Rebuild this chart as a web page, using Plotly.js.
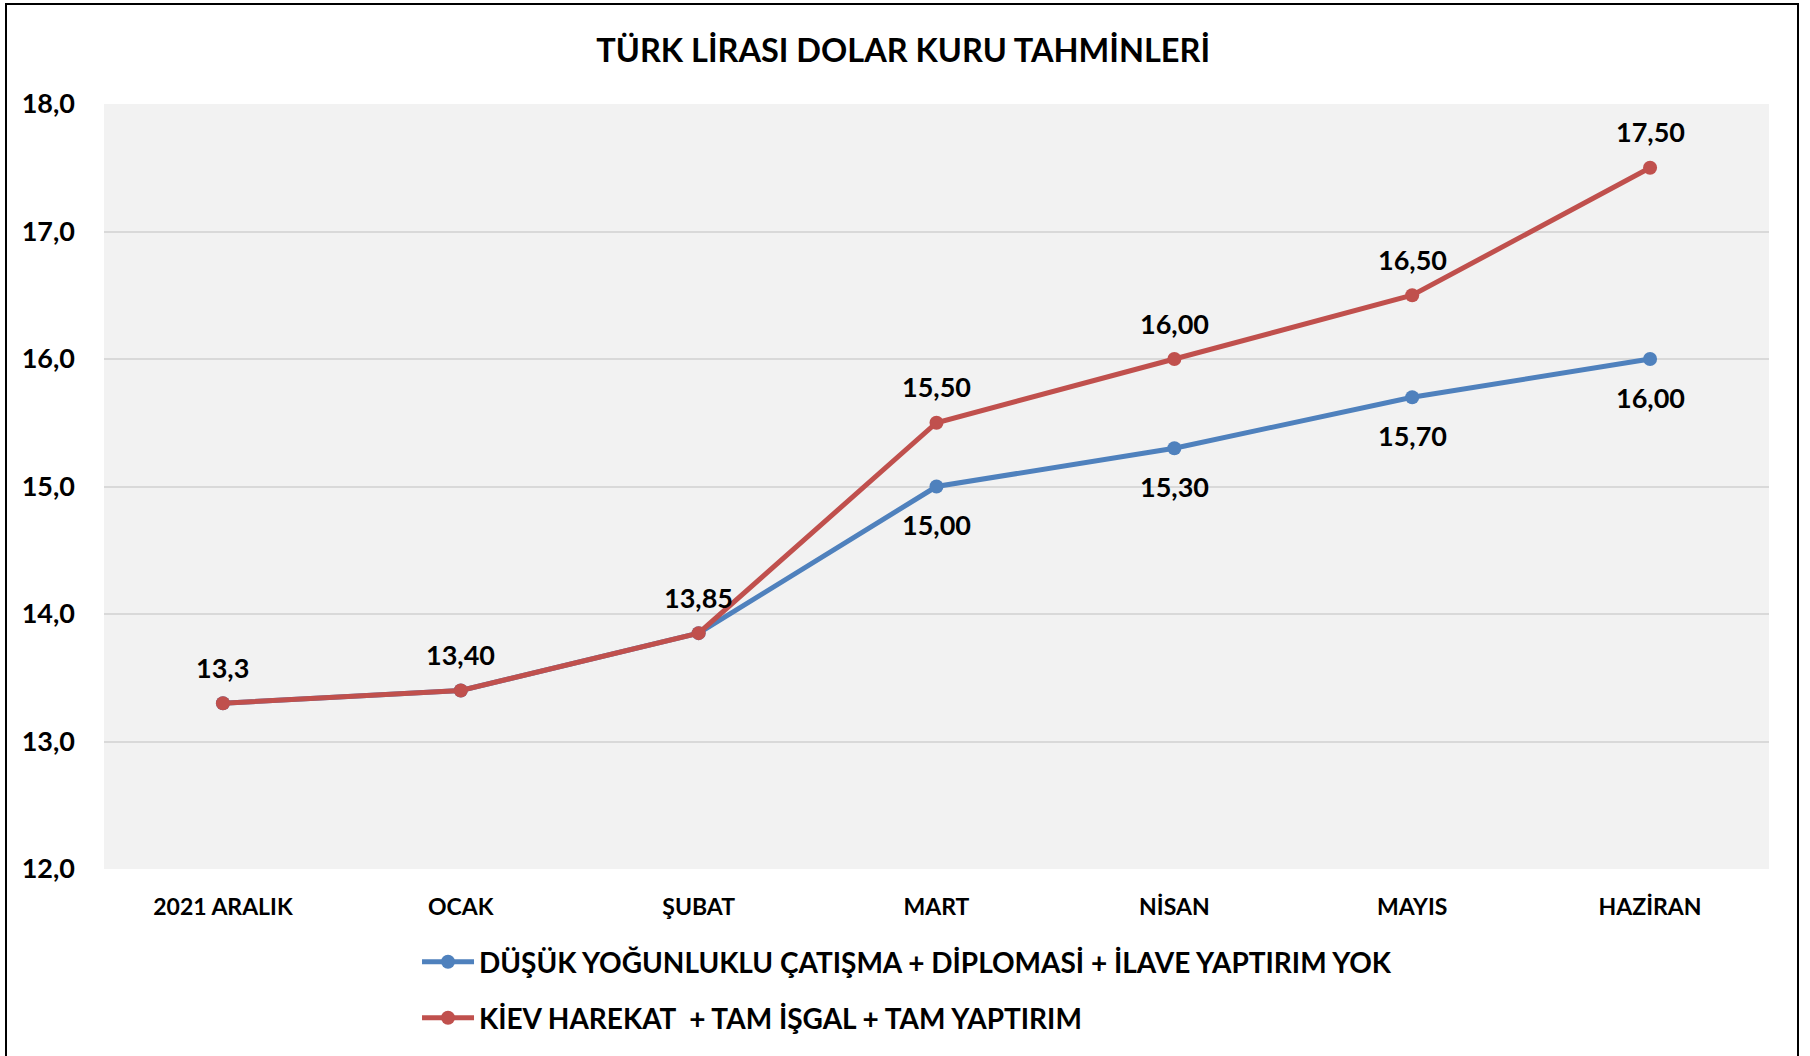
<!DOCTYPE html>
<html>
<head>
<meta charset="utf-8">
<script src="https://cdn.plot.ly/plotly-3.0.1.min.js"></script>
<style>
  html, body { margin: 0; padding: 0; background: #fff; }
  #chart { width: 1810px; height: 1056px; }
  #frame { position: absolute; left: 5px; top: 3px; width: 1790px; height: 1100px; border: 2px solid #000; pointer-events: none; }
</style>
</head>
<body>
<div id="chart"></div>
<div id="frame"></div>
<script>
const categories = ["2021 ARALIK", "OCAK", "ŞUBAT", "MART", "NİSAN", "MAYIS", "HAZİRAN"];
const lowConflict = [13.3, 13.4, 13.85, 15.0, 15.3, 15.7, 16.0];
const fullInvasion = [13.3, 13.4, 13.85, 15.5, 16.0, 16.5, 17.5];
const lowConflictLabels = ["", "", "", "15,00", "15,30", "15,70", "16,00"];
const fullInvasionLabels = ["13,3", "13,40", "13,85", "15,50", "16,00", "16,50", "17,50"];
const seriesNames = ["DÜŞÜK YOĞUNLUKLU ÇATIŞMA + DİPLOMASİ + İLAVE YAPTIRIM YOK", "KİEV HAREKAT  + TAM İŞGAL + TAM YAPTIRIM"];
const titleText = "TÜRK LİRASI DOLAR KURU TAHMİNLERİ";

const FONT = "Lato, 'Open Sans', sans-serif";
const BLUE = "#4F81BD";
const RED = "#C0504D";

const traces = [
  {
    x: categories, y: lowConflict, name: seriesNames[0], type: "scatter", mode: "lines+markers",
    line: { color: BLUE, width: 5 }, marker: { color: BLUE, size: 14 }, legend: "legend", hoverinfo: "x+y"
  },
  {
    x: categories, y: fullInvasion, name: seriesNames[1], type: "scatter", mode: "lines+markers",
    line: { color: RED, width: 5 }, marker: { color: RED, size: 14 }, legend: "legend2", hoverinfo: "x+y"
  }
];

const annotations = [];
categories.forEach((c, i) => {
  if (fullInvasionLabels[i]) {
    annotations.push({ x: c, y: fullInvasion[i], xref: "x", yref: "y", text: fullInvasionLabels[i], showarrow: false,
      yshift: 36, font: { family: FONT, size: 27, color: "#000", weight: 700 } });
  }
  if (lowConflictLabels[i]) {
    annotations.push({ x: c, y: lowConflict[i], xref: "x", yref: "y", text: lowConflictLabels[i], showarrow: false,
      yshift: -38, font: { family: FONT, size: 27, color: "#000", weight: 700 } });
  }
});

const layout = {
  width: 1810, height: 1056,
  margin: { l: 104, r: 41, t: 104, b: 187, pad: 0 },
  paper_bgcolor: "#ffffff",
  plot_bgcolor: "#F2F2F2",
  separators: ",.",
  font: { family: FONT, color: "#000" },
  title: {
    text: "<b>" + titleText + "</b>", x: 0.499, xanchor: "center", y: 0.952, yanchor: "middle", yref: "container",
    font: { family: FONT, size: 32.5, color: "#000" }
  },
  xaxis: {
    type: "category", range: [-0.5, 6.5], showgrid: false, zeroline: false, showline: false, ticks: "",
    tickfont: { family: FONT, size: 23, color: "#000", weight: 700 }, ticklabelstandoff: 22, fixedrange: true
  },
  yaxis: {
    range: [12, 18], dtick: 1, tickformat: ".1f", showgrid: true, gridcolor: "#D9D9D9", gridwidth: 2,
    zeroline: false, showline: false, ticks: "", ticklabelstandoff: 28,
    tickfont: { family: FONT, size: 27, color: "#000", weight: 700 }, fixedrange: true
  },
  showlegend: true,
  legend: {
    x: 0.188, xanchor: "left", y: -0.1216, yanchor: "middle", orientation: "v", bgcolor: "rgba(0,0,0,0)",
    itemwidth: 52,
    font: { family: FONT, size: 28, color: "#000", weight: 700 }
  },
  legend2: {
    x: 0.188, xanchor: "left", y: -0.1948, yanchor: "middle", orientation: "v", bgcolor: "rgba(0,0,0,0)",
    itemwidth: 52,
    font: { family: FONT, size: 28, color: "#000", weight: 700 }
  },
  annotations: annotations
};

Plotly.newPlot("chart", traces, layout, { displayModeBar: false, staticPlot: false });
</script>
</body>
</html>
